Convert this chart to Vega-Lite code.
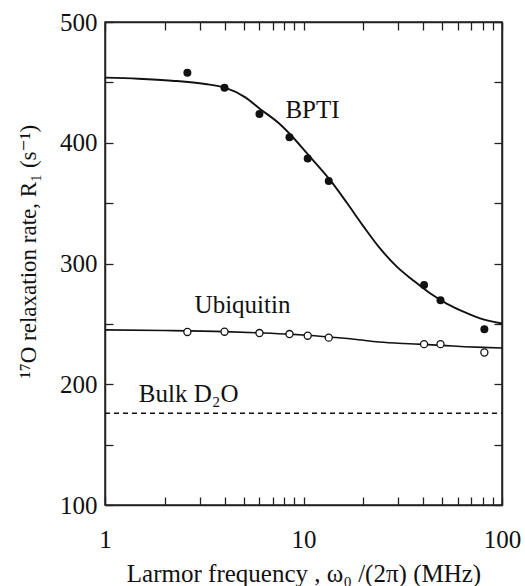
{
  "$schema": "https://vega.github.io/schema/vega-lite/v6.json",
  "autosize": "none",
  "width": 397,
  "height": 483,
  "padding": {"left": 105, "top": 22, "right": 23, "bottom": 81},
  "background": "white",
  "datasets": {
    "bpti_fit": [
      {"f": 1, "r": 453.9}, {"f": 1.47, "r": 453.0}, {"f": 2.17, "r": 451.4}, {"f": 3.19, "r": 448.7},
      {"f": 4.02, "r": 445.6}, {"f": 5.07, "r": 437.8}, {"f": 6.04, "r": 428.0}, {"f": 7.47, "r": 416.5},
      {"f": 8.72, "r": 405.6}, {"f": 10.58, "r": 389.9}, {"f": 13.6, "r": 369.2}, {"f": 16.5, "r": 350.5},
      {"f": 20.0, "r": 331.0}, {"f": 24.3, "r": 312.5}, {"f": 29.5, "r": 297.4}, {"f": 35.7, "r": 286.0},
      {"f": 43.4, "r": 275.3}, {"f": 52.6, "r": 266.8}, {"f": 63.9, "r": 260.1}, {"f": 77.5, "r": 254.6},
      {"f": 100, "r": 250.3}
    ],
    "ubq_fit": [
      {"f": 1, "r": 245}, {"f": 2, "r": 244.5}, {"f": 4, "r": 243.6}, {"f": 6, "r": 242.6},
      {"f": 8.5, "r": 241.5}, {"f": 10.4, "r": 240.6}, {"f": 13.3, "r": 239.2}, {"f": 18, "r": 237.3},
      {"f": 24, "r": 235.0}, {"f": 32, "r": 233.7}, {"f": 40, "r": 233}, {"f": 52, "r": 232},
      {"f": 65, "r": 231.1}, {"f": 80, "r": 230.5}, {"f": 100, "r": 230}
    ],
    "bulk": [{"f": 1, "r": 176}, {"f": 100, "r": 176}],
    "bpti_pts": [
      {"f": 2.6, "r": 458}, {"f": 4.0, "r": 445.5}, {"f": 6.0, "r": 423.8}, {"f": 8.5, "r": 404.5},
      {"f": 10.5, "r": 387}, {"f": 13.4, "r": 368.3}, {"f": 40.5, "r": 282.2}, {"f": 49, "r": 269.6},
      {"f": 81.5, "r": 245.6}
    ],
    "ubq_pts": [
      {"f": 2.6, "r": 243.3}, {"f": 4.0, "r": 243.5}, {"f": 6.0, "r": 242.4}, {"f": 8.5, "r": 241.6},
      {"f": 10.5, "r": 240.2}, {"f": 13.4, "r": 238.6}, {"f": 40.5, "r": 233.2}, {"f": 49, "r": 233.2},
      {"f": 81.5, "r": 226.3}
    ],
    "labels": [
      {"f": 11.1, "r": 420.5, "text": "BPTI"},
      {"f": 4.93, "r": 258.8, "text": "Ubiquitin"},
      {"f": 2.64, "r": 185.6, "text": "Bulk D₂O"}
    ]
  },
  "layer": [
    {
      "data": {"name": "bpti_fit"},
      "mark": {"type": "line", "color": "#111", "strokeWidth": 1.9, "interpolate": "monotone"},
      "encoding": {
        "x": {
          "field": "f", "type": "quantitative",
          "scale": {"type": "log", "domain": [1, 100], "nice": false},
          "axis": {
            "orient": "bottom",
            "values": [1, 2, 3, 4, 5, 6, 7, 8, 9, 10, 20, 30, 40, 50, 60, 70, 80, 90, 100],
            "format": "d",
            "labelExpr": "(datum.value == 1 || datum.value == 10 || datum.value == 100) ? datum.label : ''",
            "ticks": true,
            "tickSize": -8,
            "tickOpacity": 1,
            "labelPadding": 30,
            "labelOverlap": false,
            "labelFlush": false,
            "labelBaseline": "top",
            "title": "Larmor frequency ,  ω₀ /(2π)   (MHz)",
            "titleX": 198.5,
            "titleY": 76,
            "titleAlign": "center",
            "titleBaseline": "alphabetic"
          }
        },
        "y": {
          "field": "r", "type": "quantitative",
          "scale": {"domain": [100, 500], "nice": false, "zero": false},
          "axis": {
            "orient": "left",
            "values": [100, 150, 200, 250, 300, 350, 400, 450, 500],
            "format": "d",
            "labelExpr": "datum.value % 100 == 0 ? datum.label : ''",
            "ticks": true,
            "tickSize": -8,
            "tickOpacity": 1,
            "labelPadding": 16,
            "labelOverlap": false,
            "labelFlush": false,
            "labelBaseline": "middle",
            "title": "¹⁷O relaxation rate, R₁   (s⁻¹)",
            "titleFontSize": 23,
            "titleX": -70,
            "titleY": 229,
            "titleAngle": -90,
            "titleAlign": "center",
            "titleBaseline": "alphabetic"
          }
        }
      }
    },
    {
      "data": {"name": "ubq_fit"},
      "mark": {"type": "line", "color": "#111", "strokeWidth": 1.6, "interpolate": "monotone"},
      "encoding": {
        "x": {
          "field": "f", "type": "quantitative",
          "scale": {"type": "log", "domain": [1, 100], "nice": false},
          "axis": {
            "orient": "top",
            "values": [1, 2, 3, 4, 5, 6, 7, 8, 9, 10, 20, 30, 40, 50, 60, 70, 80, 90, 100],
            "labels": false,
            "ticks": true,
            "tickSize": -8,
            "tickOpacity": 1,
            "title": null
          }
        },
        "y": {
          "field": "r", "type": "quantitative",
          "scale": {"domain": [100, 500], "nice": false, "zero": false},
          "axis": {
            "orient": "right",
            "values": [100, 150, 200, 250, 300, 350, 400, 450, 500],
            "labels": false,
            "ticks": true,
            "tickSize": -8,
            "tickOpacity": 1,
            "title": null
          }
        }
      }
    },
    {
      "data": {"name": "bulk"},
      "mark": {"type": "line", "color": "#111", "strokeWidth": 1.3, "strokeDash": [5, 4]},
      "encoding": {
        "x": {"field": "f", "type": "quantitative", "scale": {"type": "log", "domain": [1, 100], "nice": false}, "axis": null},
        "y": {"field": "r", "type": "quantitative", "scale": {"domain": [100, 500], "nice": false, "zero": false}, "axis": null}
      }
    },
    {
      "data": {"name": "bpti_pts"},
      "mark": {"type": "point", "shape": "circle", "filled": true, "color": "#111", "size": 64, "opacity": 1},
      "encoding": {
        "x": {"field": "f", "type": "quantitative", "scale": {"type": "log", "domain": [1, 100], "nice": false}, "axis": null},
        "y": {"field": "r", "type": "quantitative", "scale": {"domain": [100, 500], "nice": false, "zero": false}, "axis": null}
      }
    },
    {
      "data": {"name": "ubq_pts"},
      "mark": {"type": "point", "shape": "circle", "filled": true, "fill": "white", "stroke": "#111", "strokeWidth": 1.3, "size": 50, "opacity": 1},
      "encoding": {
        "x": {"field": "f", "type": "quantitative", "scale": {"type": "log", "domain": [1, 100], "nice": false}, "axis": null},
        "y": {"field": "r", "type": "quantitative", "scale": {"domain": [100, 500], "nice": false, "zero": false}, "axis": null}
      }
    },
    {
      "data": {"name": "labels"},
      "mark": {"type": "text", "font": "Liberation Serif", "fontSize": 25, "color": "#111", "align": "center", "baseline": "alphabetic"},
      "encoding": {
        "x": {"field": "f", "type": "quantitative", "scale": {"type": "log", "domain": [1, 100], "nice": false}, "axis": null},
        "y": {"field": "r", "type": "quantitative", "scale": {"domain": [100, 500], "nice": false, "zero": false}, "axis": null},
        "text": {"field": "text"}
      }
    }
  ],
  "config": {
    "font": "Liberation Serif",
    "view": {"stroke": "#222", "strokeWidth": 1.5},
    "axis": {
      "grid": false,
      "domainColor": "#222",
      "domainWidth": 1.5,
      "tickColor": "#222",
      "tickWidth": 1.3,
      "labelFont": "Liberation Serif",
      "labelFontSize": 25,
      "labelColor": "#111",
      "titleFont": "Liberation Serif, DejaVu Serif",
      "titleFontSize": 25,
      "titleFontWeight": "normal",
      "titleColor": "#111"
    }
  }
}
